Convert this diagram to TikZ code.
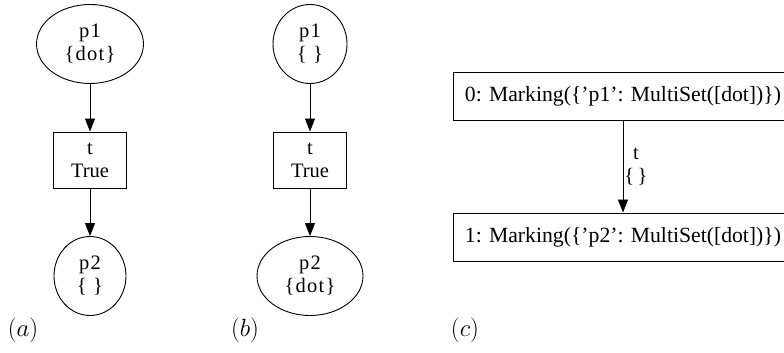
\documentclass[tikz,border=0pt]{standalone}
\usepackage{fontspec}
\setmainfont{Liberation Serif}
\usetikzlibrary{shapes.geometric, arrows.meta}

\begin{document}
\begin{tikzpicture}[x=1pt,y=1pt,->,>={Triangle[length=13pt,width=10pt]},line width=0.9pt,
                    node distance=116pt]
\tikzstyle{place}=[ellipse,draw=black,inner sep=0pt,minimum height=79pt,align=center,
                   font=\fontsize{20.5}{23}\selectfont\addfontfeature{LetterSpace=6}]
\tikzstyle{trans}=[rectangle,draw=black,minimum width=73pt,minimum height=56pt,align=center]
\tikzstyle{marking}=[rectangle,draw=black,inner xsep=11pt,minimum height=48pt,
                     font=\fontsize{21.7}{24}\selectfont]
\tikzstyle{sublabel}=[inner sep=0pt,font=\fontsize{23}{26}\selectfont]
\tikzset{font=\fontsize{20.5}{23}\selectfont}

\useasboundingbox (0,0) rectangle (784,353);

        % (a) before firing
        \node[place,minimum width=107pt]    (a1)   at (90,309)          {p1\\\{dot\}};
        \node[trans]                        (at)   [below of=a1]        {t\\True};
        \node[place,minimum width=72pt]     (a2)   [below of=at]        {p2\\\{ \}};
        \node[sublabel]                     (la)   at (23,23)           {$(a)$};

        % (b) after firing
        \node[place,minimum width=74pt]     (b1)   at (310,309)         {p1\\\{ \}};
        \node[trans]                        (bt)   [below of=b1]        {t\\True};
        \node[place,minimum width=106pt]    (b2)   [below of=bt]        {p2\\\{dot\}};
        \node[sublabel]                     (lb)   at (245,23)          {$(b)$};

        % (c) marking graph
        \node[marking]                      (m0)   at (623,257)         {0: Marking(\{'p1': MultiSet([dot])\})};
        \node[marking, node distance=141pt] (m1)   [below of=m0]        {1: Marking(\{'p2': MultiSet([dot])\})};
        \node[sublabel]                     (lc)   at (465,23)          {$(c)$};

        \path[->]
        (a1)  edge            (at)
        (at)  edge            (a2)
        (b1)  edge            (bt)
        (bt)  edge            (b2)
        (m0)  edge node[right,inner sep=1pt,align=center] {t\\\{\,\}} (m1)
        ; %end path

\end{tikzpicture}
\end{document}
